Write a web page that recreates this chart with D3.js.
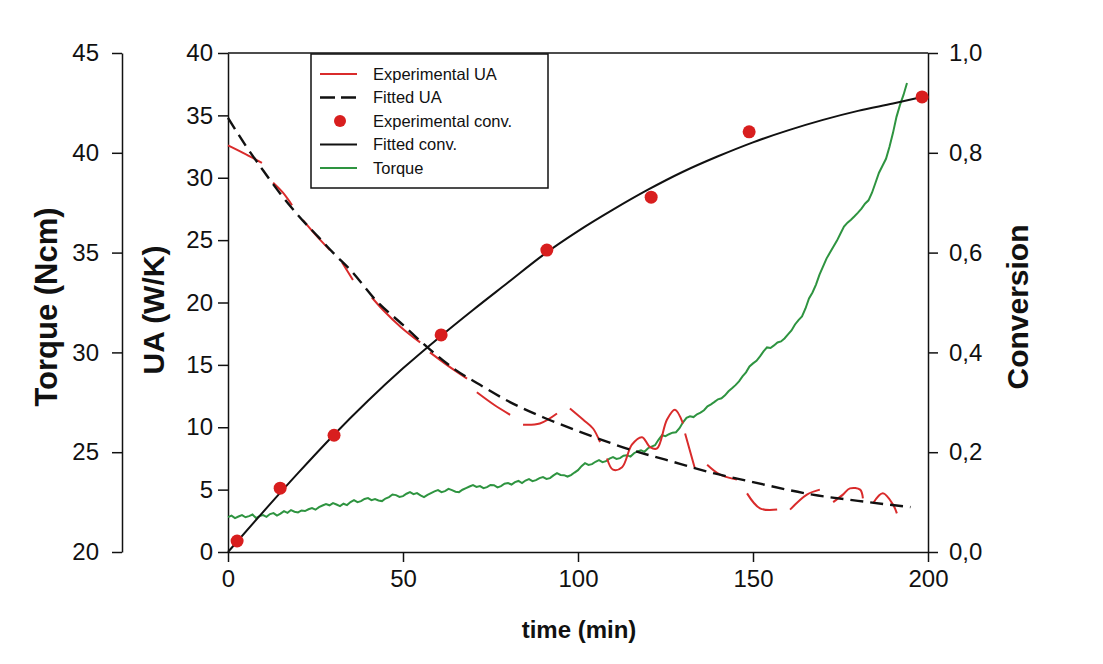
<!DOCTYPE html>
<html>
<head>
<meta charset="utf-8">
<script src="https://cdn.jsdelivr.net/npm/d3@7"></script>
<style>
	body { margin: 0; background: #fff; }
	svg { display: block; font-family: "Liberation Sans", Arial, sans-serif; }
	.axis path, .axis line { stroke: #111; stroke-width: 1.5; }
	.axis text { font-size: 24px; fill: #111; font-family: "Liberation Sans", Arial, sans-serif; }
	.title { font-weight: bold; fill: #111; }
	.legend text { font-size: 16.5px; fill: #111; }
</style>
</head>
<body>
<svg id="chart" width="1103" height="664"></svg>
<script>
// ---- data ----
const xTicks = [0, 50, 100, 150, 200];
const uaTicks = [0, 5, 10, 15, 20, 25, 30, 35, 40];
const torqueTicks = [20, 25, 30, 35, 40, 45];
const convTicks = [0, 0.2, 0.4, 0.6, 0.8, 1.0];

// experimental UA (W/K); null breaks the trace into the visible pieces
const expUA = [
	[0, 32.6], [4.3, 32.0], [9.7, 31.2], null,
	[12.9, 29.6], [15.7, 28.8], [18.3, 27.8], null,
	[21.4, 26.6], [25.1, 25.4], [29.1, 24.2], null,
	[32.6, 23.2], [35.7, 21.8], null,
	[41.1, 20.4], [44.3, 19.4], [49.5, 18.0], [54.9, 16.8], null,
	[57.7, 16.0], [63.0, 14.9], [68.3, 13.9], null,
	[71.1, 12.8], [76.0, 11.8], [80.6, 11.0], null,
	[84.3, 10.2], [89.1, 10.3], [94.0, 11.1], null,
	[97.7, 11.5], [101.5, 10.6], [104.3, 9.9], [106.3, 8.8], null,
	[108.3, 7.5], [110.0, 6.6], [112.6, 6.8], [115.4, 8.6], [118.3, 9.2], [120.6, 8.4],
	[122.6, 8.3], [125.4, 10.6], [127.7, 11.4], [130.0, 10.3], null,
	[130.6, 9.5], [133.4, 6.7], null,
	[136.9, 7.0], [140.6, 6.2], [145.4, 5.8], null,
	[148.3, 4.7], [152.0, 3.5], [156.9, 3.4], null,
	[160.6, 3.4], [165.4, 4.6], [169.1, 5.0], null,
	[172.9, 4.0], [175.7, 4.6], [177.7, 5.1], [180.6, 5.0], [181.4, 4.3], null,
	[184.3, 3.9], [187.1, 4.7], [190.0, 3.8], [191.1, 3.1]
];

const fittedUA = [
	[0, 34.8], [5, 32.6], [10, 30.6], [15, 28.7], [20, 27.0], [26, 25.2], [30, 24.0],
	[35, 22.6], [42.5, 20.1], [50, 18.2], [57, 16.4], [65, 14.6], [72, 13.4], [80, 12.1],
	[90, 10.8], [100, 9.7], [115, 8.2], [125, 7.4], [139, 6.3], [150, 5.6], [167, 4.6],
	[180, 4.1], [195, 3.6]
];

const expConv = [
	[2.6, 0.022], [14.9, 0.128], [30.3, 0.234], [60.9, 0.435],
	[91.1, 0.605], [120.9, 0.711], [148.9, 0.842], [198.3, 0.912]
];

const fittedConv = [
	[0, 0], [10, 0.08], [20, 0.158], [30, 0.233], [40, 0.303], [50, 0.368], [60, 0.428],
	[70, 0.485], [80, 0.54], [90, 0.595], [100, 0.643], [110, 0.686], [120, 0.726],
	[130, 0.762], [140, 0.793], [150, 0.821], [160, 0.845], [170, 0.866], [180, 0.884],
	[190, 0.899], [197, 0.91]
];

const torque = [
	[0, 21.75], [1, 21.82], [2, 21.70], [3, 21.78], [4, 21.85], [5, 21.74], [6, 21.80],
	[7, 21.88], [8, 21.70], [9, 21.80], [10, 21.85], [11, 21.76], [12, 21.90], [13, 21.95],
	[14, 21.82], [15, 21.92], [16, 22.05], [17, 21.96], [18, 22.10], [19, 22.02], [20, 21.98],
	[21, 22.08], [22, 22.05], [23, 22.14], [24, 22.20], [25, 22.12], [26, 22.25], [27, 22.33],
	[28, 22.40], [29, 22.34], [30, 22.45], [31, 22.38], [32, 22.30], [33, 22.42], [34, 22.35],
	[35, 22.50], [36, 22.60], [37, 22.50], [38, 22.55], [39, 22.66], [40, 22.70], [41, 22.60],
	[42, 22.65], [43, 22.58], [44, 22.55], [45, 22.68], [46, 22.75], [47, 22.88], [48, 22.85],
	[49, 22.76], [50, 22.80], [51, 22.92], [52, 23.00], [53, 22.90], [54, 22.95], [55, 22.84],
	[56, 22.75], [57, 22.86], [58, 22.95], [59, 23.04], [60, 23.10], [61, 23.00], [62, 23.05],
	[63, 23.16], [64, 23.10], [65, 23.02], [66, 23.00], [67, 23.12], [68, 23.20], [69, 23.28],
	[70, 23.35], [71, 23.26], [72, 23.30], [73, 23.20], [74, 23.25], [75, 23.36], [76, 23.35],
	[77, 23.24], [78, 23.30], [79, 23.42], [80, 23.45], [81, 23.38], [82, 23.50], [83, 23.56],
	[84, 23.45], [85, 23.58], [86, 23.65], [87, 23.55], [88, 23.60], [89, 23.70], [90, 23.75],
	[91, 23.66], [92, 23.70], [93, 23.84], [94, 23.95], [95, 23.86], [96, 23.85], [97, 23.78],
	[98, 23.85], [99, 23.98], [100, 24.10], [101, 24.30], [102, 24.45], [103, 24.36],
	[104, 24.40], [105, 24.52], [106, 24.60], [107, 24.50], [108, 24.55], [109, 24.68],
	[110, 24.75], [111, 24.66], [112, 24.70], [113, 24.82], [114, 24.85], [115, 24.78],
	[116, 24.95], [117, 25.04], [118, 25.10], [119, 25.02], [120, 25.20], [121, 25.28],
	[122, 25.35], [123, 25.62], [124, 25.85], [125, 25.80], [126, 25.90], [127, 25.98],
	[128, 26.00], [129, 26.20], [130, 26.50], [131, 26.72], [132, 26.80], [133, 26.76],
	[134, 26.90], [135, 26.98], [136, 27.10], [137, 27.30], [138, 27.40], [139, 27.52],
	[140, 27.65], [141, 27.70], [142, 27.85], [143, 28.05], [144, 28.20], [145, 28.36],
	[146, 28.55], [147, 28.80], [148, 29.00], [149, 29.30], [150, 29.45], [151, 29.58],
	[152, 29.80], [153, 30.05], [154, 30.25], [155, 30.22], [156, 30.35], [157, 30.50],
	[158, 30.55], [159, 30.70], [160, 30.90], [161, 31.10], [162, 31.40], [163, 31.62],
	[164, 31.80], [165, 32.20], [166, 32.70], [167, 33.00], [168, 33.40], [169, 33.90],
	[170, 34.30], [171, 34.70], [172, 35.00], [173, 35.30], [174, 35.60], [175, 35.96],
	[176, 36.30], [177, 36.50], [178, 36.65], [179, 36.82], [180, 37.00], [181, 37.20],
	[182, 37.45], [183, 37.62], [184, 38.00], [185, 38.50], [186, 39.00], [187, 39.35],
	[188, 39.70], [189, 40.30], [190, 41.00], [191, 41.80], [192, 42.40], [193, 42.90],
	[194, 43.50]
];

const legendItems = [
	{ label: "Experimental UA", kind: "line", color: "#d92b2b", dash: null },
	{ label: "Fitted UA", kind: "line", color: "#111", dash: "15,6" },
	{ label: "Experimental conv.", kind: "dot", color: "#d81e1e", dash: null },
	{ label: "Fitted conv.", kind: "line", color: "#111", dash: null },
	{ label: "Torque", kind: "line", color: "#2e9440", dash: null },
];

// ---- layout ----
const plot = { left: 228, right: 928, top: 53, bottom: 552 };
const torqueAxisX = 122;
const svg = d3.select("#chart");

svg.append("rect").attr("width", 1103).attr("height", 664).attr("fill", "#fff");

const x = d3.scaleLinear().domain([0, 200]).range([plot.left, plot.right]);
const yUA = d3.scaleLinear().domain([0, 40]).range([plot.bottom, plot.top]);
const yTorque = d3.scaleLinear().domain([20, 45]).range([plot.bottom, plot.top]);
const yConv = d3.scaleLinear().domain([0, 1]).range([plot.bottom, plot.top]);

const commaFmt = (d) => d3.format(".1f")(d).replace(".", ",");

// frame top line
svg.append("line")
	.attr("x1", plot.left).attr("x2", plot.right)
	.attr("y1", plot.top).attr("y2", plot.top)
	.attr("stroke", "#111").attr("stroke-width", 1.5);

// x axis
svg.append("g")
	.attr("class", "axis")
	.attr("transform", `translate(0, ${plot.bottom})`)
	.call(d3.axisBottom(x).tickValues(xTicks).tickSize(10).tickSizeOuter(0).tickPadding(5))
	.call((g) => g.selectAll("text").attr("dy", "0.85em"));

// UA axis
svg.append("g")
	.attr("class", "axis")
	.attr("transform", `translate(${plot.left}, 0)`)
	.call(d3.axisLeft(yUA).tickValues(uaTicks).tickSize(10).tickSizeOuter(0).tickPadding(5));

// torque axis
svg.append("g")
	.attr("class", "axis")
	.attr("transform", `translate(${torqueAxisX}, 0)`)
	.call(d3.axisLeft(yTorque).tickValues(torqueTicks).tickSize(10).tickSizeOuter(0).tickPadding(13));

// conversion axis
svg.append("g")
	.attr("class", "axis")
	.attr("transform", `translate(${plot.right}, 0)`)
	.call(d3.axisRight(yConv).tickValues(convTicks).tickSize(10).tickSizeOuter(0).tickPadding(11).tickFormat(commaFmt));

// axis titles
svg.append("text")
	.attr("class", "title")
	.attr("transform", `translate(57, 307) rotate(-90)`)
	.attr("text-anchor", "middle")
	.style("font-size", "31px")
	.text("Torque (Ncm)");

svg.append("text")
	.attr("class", "title")
	.attr("transform", `translate(164, 310) rotate(-90)`)
	.attr("text-anchor", "middle")
	.style("font-size", "30px")
	.text("UA (W/K)");

svg.append("text")
	.attr("class", "title")
	.attr("transform", `translate(1028, 307) rotate(-90)`)
	.attr("text-anchor", "middle")
	.style("font-size", "30px")
	.text("Conversion");

svg.append("text")
	.attr("class", "title")
	.attr("x", 579)
	.attr("y", 638)
	.attr("text-anchor", "middle")
	.style("font-size", "24px")
	.text("time (min)");

// ---- series ----
const torqueLine = d3.line()
	.x((d) => x(d[0]))
	.y((d) => yTorque(d[1]));

svg.append("path")
	.datum(torque)
	.attr("d", torqueLine)
	.attr("fill", "none")
	.attr("stroke", "#2e9440")
	.attr("stroke-width", 2);

const uaLine = d3.line()
	.defined((d) => d !== null)
	.x((d) => x(d[0]))
	.y((d) => yUA(d[1]))
	.curve(d3.curveCatmullRom);

svg.append("path")
	.datum(expUA)
	.attr("d", uaLine)
	.attr("fill", "none")
	.attr("stroke", "#d92b2b")
	.attr("stroke-width", 2);

svg.append("path")
	.datum(fittedUA)
	.attr("d", uaLine.curve(d3.curveMonotoneX))
	.attr("fill", "none")
	.attr("stroke", "#111")
	.attr("stroke-width", 2.4)
	.attr("stroke-dasharray", "13,7");

const convLine = d3.line()
	.x((d) => x(d[0]))
	.y((d) => yConv(d[1]))
	.curve(d3.curveMonotoneX);

svg.append("path")
	.datum(fittedConv)
	.attr("d", convLine)
	.attr("fill", "none")
	.attr("stroke", "#111")
	.attr("stroke-width", 2);

svg.selectAll(".conv-dot")
	.data(expConv)
	.join("circle")
	.attr("class", "conv-dot")
	.attr("cx", (d) => x(d[0]))
	.attr("cy", (d) => yConv(d[1]))
	.attr("r", 6.5)
	.attr("fill", "#d81e1e");

// ---- legend ----
const legend = svg.append("g").attr("class", "legend");

legend.append("rect")
	.attr("x", 311).attr("y", 54)
	.attr("width", 237).attr("height", 134)
	.attr("fill", "#fff")
	.attr("stroke", "#111")
	.attr("stroke-width", 1.5);

legendItems.forEach((item, i) => {
	const cy = 74 + i * 23.5;
	if (item.kind === "dot") {
		legend.append("circle")
			.attr("cx", 340).attr("cy", cy).attr("r", 6)
			.attr("fill", item.color);
	} else {
		legend.append("line")
			.attr("x1", 320).attr("x2", 357)
			.attr("y1", cy).attr("y2", cy)
			.attr("stroke", item.color)
			.attr("stroke-width", item.dash ? 2.4 : 1.8)
			.attr("stroke-dasharray", item.dash);
	}
	legend.append("text")
		.attr("x", 373)
		.attr("y", cy)
		.attr("dy", "0.36em")
		.text(item.label);
});
</script>
</body>
</html>
